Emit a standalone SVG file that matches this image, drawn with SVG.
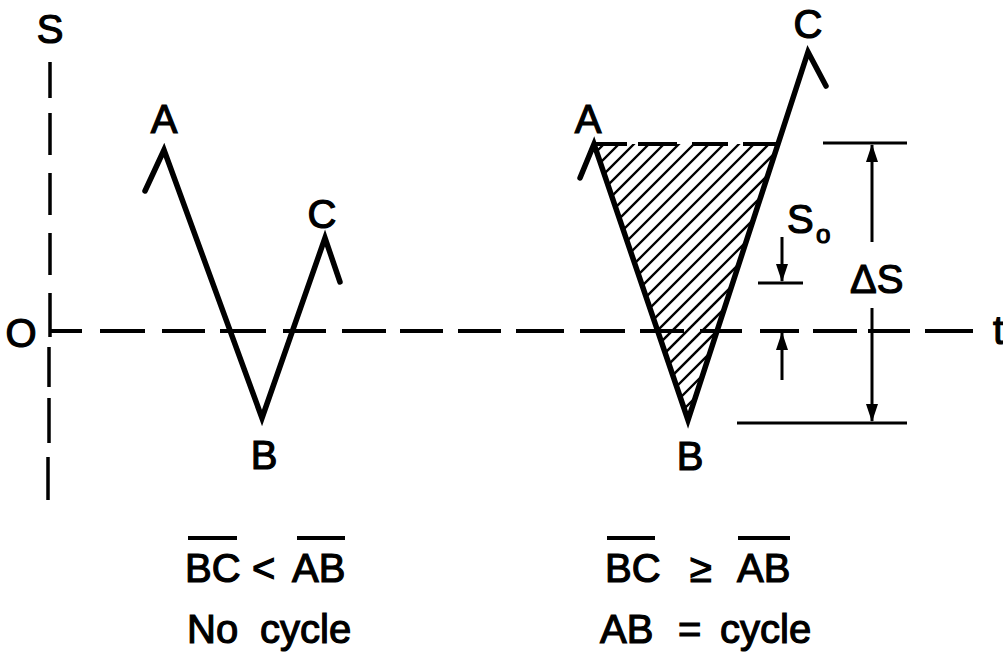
<svg xmlns="http://www.w3.org/2000/svg" width="1003" height="658" viewBox="0 0 1003 658">
<style>
.lbl{font-family:"Liberation Sans",Arial,sans-serif;font-size:40px;fill:#000;stroke:#000;stroke-width:1.2}
.sub{font-size:26px}
.axis{fill:none;stroke:#000;stroke-linecap:butt}
.curve{fill:none;stroke:#000;stroke-width:5.5;stroke-linejoin:miter;stroke-miterlimit:12;stroke-linecap:round}
.hatch{fill:none;stroke:#000;stroke-width:2.3}
.dim{fill:none;stroke:#000;stroke-width:3}
.bar{fill:none;stroke:#000;stroke-width:4}
</style>
<defs>
<marker id="arr" viewBox="0 0 18 12" markerWidth="18" markerHeight="12" refX="17" refY="6" orient="auto" markerUnits="userSpaceOnUse">
<path d="M0,0 L18,6 L0,12 z" fill="#000"/>
</marker>
<clipPath id="tri"><polygon points="594,144 778,144 688,420"/></clipPath>
</defs>

<g id="axes">
<path class="axis" stroke-width="3.5" d="M50,62 V98 M50,113 V155 M50,173 V215 M50,233 V275 M50,293 V337 M49,347 V387 M49,398 V443 M48,457 V500"/>
<path class="axis" stroke-width="4" d="M50,331 H82 M100,331 H145 M162,331 H205 M220,331 H266 M283,331 H326 M342,331 H386 M400,331 H443 M458,331 H501 M516,331 H564 M580,331 H625 M640,331 H684 M700,331 H742 M760,331 H799 M813,331 H857 M868,331 H910 M925,331 H973"/>
</g>

<g id="left-cycle">
<path class="curve" d="M145,191 L164,150 L262,418 L325,238 L340,282"/>
</g>

<g id="right-cycle">
<g clip-path="url(#tri)">
<path class="hatch" d="M298,450 L648,100 M313,450 L663,100 M328,450 L678,100 M343,450 L693,100 M358,450 L708,100 M373,450 L723,100 M388,450 L738,100 M403,450 L753,100 M418,450 L768,100 M433,450 L783,100 M448,450 L798,100 M463,450 L813,100 M478,450 L828,100 M493,450 L843,100 M508,450 L858,100 M523,450 L873,100 M538,450 L888,100 M553,450 L903,100 M568,450 L918,100 M583,450 L933,100 M598,450 L948,100 M613,450 L963,100 M628,450 L978,100 M643,450 L993,100"/>
</g>
<path class="bar" d="M593,144 H627 M638,144 H677 M692,144 H728 M743,144 H778"/>
<path class="curve" d="M580,178 L594,144 L688,420 L808,52 L826,86"/>
</g>

<g id="dimensions">
<path class="dim" d="M823,143 H907 M737,423 H907 M758,283 H803"/>
<path class="dim" marker-end="url(#arr)" d="M872,242 V145"/>
<path class="dim" marker-end="url(#arr)" d="M872,308 V421"/>
<path class="dim" marker-end="url(#arr)" d="M782,237 V281"/>
<path class="dim" marker-end="url(#arr)" d="M782,380 V333"/>
</g>

<g id="labels">
<text class="lbl" x="50" y="43" text-anchor="middle">S</text>
<text class="lbl" x="21" y="347" text-anchor="middle">O</text>
<text class="lbl" x="993" y="344">t</text>
<text class="lbl" x="164" y="133" text-anchor="middle">A</text>
<text class="lbl" x="322" y="228" text-anchor="middle">C</text>
<text class="lbl" x="264" y="469" text-anchor="middle">B</text>
<text class="lbl" x="588" y="133" text-anchor="middle">A</text>
<text class="lbl" x="808" y="38" text-anchor="middle">C</text>
<text class="lbl" x="690" y="470" text-anchor="middle">B</text>
<text class="lbl" x="787" y="233">S<tspan class="sub" x="816" y="243">o</tspan></text>
<text class="lbl" x="850" y="293">ΔS</text>
</g>

<g id="conditions">
<text class="lbl" x="185" y="582">BC <tspan x="252">&lt;</tspan> <tspan x="292">AB</tspan></text>
<text class="lbl" x="187" y="643">No <tspan x="260">cycle</tspan></text>
<text class="lbl" x="605" y="582">BC <tspan x="690">≥</tspan> <tspan x="737">AB</tspan></text>
<text class="lbl" x="600" y="643">AB <tspan x="678">=</tspan> <tspan x="720">cycle</tspan></text>
<path class="bar" d="M188,538 H237 M297,538 H345 M607,538 H655 M738,538 H790"/>
</g>
</svg>
